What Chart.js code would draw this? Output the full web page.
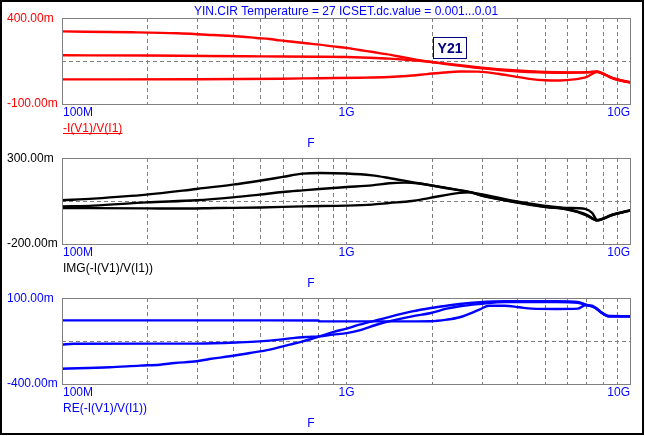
<!DOCTYPE html>
<html>
<head>
<meta charset="utf-8">
<script src="https://cdn.jsdelivr.net/npm/chart.js@4/dist/chart.umd.min.js"></script>
<style>
  html, body { margin:0; padding:0; background:#fff; }
  #wrap { position:relative; width:645px; height:436px; overflow:hidden; background:#fff; }
  #frame { position:absolute; left:0; top:0; width:640px; height:431px; border:2px solid #000; pointer-events:none; }
  canvas { position:absolute; left:0; top:0; }
</style>
</head>
<body>
<div id="wrap">
  <canvas id="c1" width="645" height="436"></canvas>
  <canvas id="c2" width="645" height="436"></canvas>
  <canvas id="c3" width="645" height="436"></canvas>
  <div id="frame"></div>
</div>
<script>
// ---------------- DATA ----------------
const chartTitle = "YIN.CIR Temperature = 27 ICSET.dc.value = 0.001...0.01";
const xTickLabels = ["100M", "1G", "10G"];
const xTickValues = [1e8, 1e9, 1e10];
const xAxisTitle = "F";

// Panel 1 : -I(V1)/V(I1)  (values in siemens)
const magName = "-I(V1)/V(I1)";
const magRange = [-0.1, 0.4];
const magF1 = [1e8,1.76e8,2.55e8,3.22e8,3.83e8,4.32e8,4.82e8,5.37e8,5.82e8,6.47e8,7.22e8,8.04e8,8.96e8,1e9,1.11e9,1.24e9,1.38e9,1.63e9,1.92e9,2.2e9,2.6e9,2.93e9,3.4e9,3.84e9,4.4e9,5e9,6e9,7e9,7.6e9,8.1e9,8.6e9,9.2e9,1e10];
const magV1 = [0.322,0.317,0.311,0.303,0.297,0.291,0.284,0.278,0.270,0.262,0.253,0.245,0.235,0.226,0.214,0.202,0.190,0.168,0.148,0.136,0.122,0.113,0.103,0.096,0.090,0.086,0.084,0.085,0.089,0.072,0.052,0.038,0.026];
const magF2 = [1e8,2e8,3.2e8,5e8,8e8,1e9,1.2e9,1.41e9,1.63e9,1.92e9,2.2e9,2.6e9,2.93e9,3.4e9,3.84e9,4.4e9,5e9,6e9,7e9,7.6e9,8.1e9,8.6e9,9.2e9,1e10];
const magV2 = [0.183,0.182,0.179,0.177,0.175,0.173,0.169,0.164,0.157,0.147,0.134,0.119,0.109,0.099,0.091,0.086,0.083,0.082,0.084,0.088,0.070,0.050,0.036,0.024];
const magF3 = [1e8,3e8,5.9e8,8e8,1.13e9,1.41e9,1.63e9,1.92e9,2.2e9,2.5e9,2.9e9,3.4e9,3.84e9,4.4e9,5e9,5.6e9,6.3e9,7e9,7.6e9,8.1e9,8.6e9,9.2e9,1e10];
const magV3 = [0.043,0.044,0.047,0.050,0.053,0.057,0.063,0.074,0.083,0.089,0.088,0.076,0.062,0.046,0.038,0.037,0.043,0.058,0.086,0.071,0.050,0.037,0.024];

// Panel 2 : IMG(-I(V1)/V(I1))
const imgName = "IMG(-I(V1)/V(I1))";
const imgRange = [-0.2, 0.3];
const imgF1 = [1e8,1.29e8,1.98e8,2.97e8,3.98e8,4.95e8,5.97e8,7.02e8,8.04e8,1e9,1.23e9,1.41e9,1.7e9,2e9,2.25e9,2.73e9,3e9,3.83e9,5e9,5.9e9,6.9e9,7.3e9,7.6e9,8.6e9,1e10];
const imgV1 = [0.054,0.064,0.087,0.120,0.145,0.168,0.190,0.209,0.213,0.210,0.199,0.184,0.160,0.140,0.126,0.102,0.088,0.052,0.022,0.010,0.004,-0.019,-0.060,-0.030,-0.002];
const imgF2 = [1e8,1.29e8,1.98e8,2.97e8,3.98e8,4.95e8,5.97e8,7.02e8,8.04e8,1e9,1.23e9,1.41e9,1.6e9,1.8e9,2e9,2.25e9,2.73e9,3e9,3.83e9,5e9,5.9e9,6.5e9,7e9,7.6e9,8.6e9,1e10];
const imgV2 = [0.019,0.023,0.042,0.054,0.071,0.087,0.102,0.112,0.120,0.131,0.141,0.153,0.157,0.152,0.139,0.124,0.100,0.082,0.045,0.015,0.002,-0.015,-0.035,-0.062,-0.030,-0.003];
const imgF3 = [1e8,2e8,2.6e8,3.5e8,5e8,7e8,1e9,1.23e9,1.41e9,1.7e9,1.95e9,2.5e9,2.73e9,3e9,3.83e9,5e9,5.9e9,6.5e9,7e9,7.6e9,8.6e9,1e10];
const imgV3 = [0.009,0.007,0.006,0.009,0.012,0.019,0.023,0.029,0.038,0.050,0.067,0.097,0.100,0.080,0.048,0.017,0.005,-0.012,-0.030,-0.063,-0.032,-0.004];

// Panel 3 : RE(-I(V1)/V(I1))
const reName = "RE(-I(V1)/V(I1))";
const reRange = [-0.4, 0.1];
const reF1 = [1e8,5e8,7.9e8,8.1e8,1.5e9,1.98e9,2.25e9,2.5e9,2.93e9,3.17e9,3.6e9,4.05e9,4.48e9,5.5e9,6.5e9,6.9e9,7.3e9,7.5e9,7.9e9,8.4e9,1e10];
const reV1 = [-0.030,-0.030,-0.031,-0.036,-0.036,-0.035,-0.026,-0.012,0.032,0.055,0.055,0.046,0.038,0.036,0.038,0.058,0.055,0.042,0.013,-0.007,-0.007];
const reF2 = [1e8,1.1e8,3e8,4.21e8,4.95e8,5.82e8,6.47e8,7.22e8,8.04e8,8.96e8,1e9,1.11e9,1.3e9,1.7e9,1.98e9,2.25e9,2.5e9,2.93e9,3.6e9,5.5e9,6.5e9,6.9e9,7.5e9,7.9e9,8.4e9,1e10];
const reV2 = [-0.171,-0.166,-0.165,-0.158,-0.152,-0.142,-0.133,-0.127,-0.123,-0.113,-0.104,-0.088,-0.051,-0.007,0.013,0.038,0.052,0.065,0.077,0.077,0.072,0.061,0.042,0.013,-0.007,-0.007];
const reF3 = [1e8,1.47e8,1.88e8,2.21e8,2.49e8,2.97e8,3.3e8,3.88e8,4.57e8,5.37e8,6.31e8,7.02e8,8.04e8,8.96e8,1e9,1.11e9,1.3e9,1.7e9,1.98e9,2.25e9,2.5e9,2.93e9,3.6e9,5.5e9,6.5e9,6.9e9,7.5e9,7.9e9,8.4e9,1e10];
const reV3 = [-0.311,-0.303,-0.293,-0.288,-0.278,-0.268,-0.255,-0.239,-0.220,-0.200,-0.171,-0.152,-0.123,-0.098,-0.078,-0.055,-0.026,0.022,0.042,0.055,0.065,0.075,0.081,0.081,0.077,0.063,0.044,0.015,-0.005,-0.006];

// ---------------- RENDER ----------------
const FONT = '"Liberation Sans", Arial, sans-serif';
const GRIDC = '#808080';
const PLOT_L = 62, PLOT_R = 631, W = 645, H = 436;

const xGridValues = [];
for (let d = 1e8; d < 1e10; d *= 10) for (let k = 1; k <= 9; k++) xGridValues.push(k * d);
xGridValues.push(1e10);

function pts(f, v) { return f.map((x, i) => ({ x: x, y: v[i] })); }
function mlabel(v) { return (v * 1000).toFixed(2) + 'm'; }

function panelPlugin(cfg) {
  return {
    id: 'panelText' + cfg.id,
    afterDraw(chart) {
      const ctx = chart.ctx, a = chart.chartArea;
      const xs = chart.scales.x;
      ctx.save();
      // plot frame
      ctx.strokeStyle = GRIDC; ctx.lineWidth = 1; ctx.setLineDash([]);
      ctx.strokeRect(Math.round(a.left) + 0.5, Math.round(a.top) + 0.5, Math.round(a.right - a.left) - 1, Math.round(a.bottom - a.top));
      ctx.font = '12px ' + FONT;
      ctx.textBaseline = 'alphabetic';
      // y labels
      ctx.fillStyle = cfg.color; ctx.textAlign = 'left';
      ctx.fillText(mlabel(cfg.range[1]), 7, a.top + 3.5);
      ctx.fillText(mlabel(cfg.range[0]), 7, a.bottom + 2.5);
      // x labels
      ctx.fillStyle = '#0000FF';
      xTickValues.forEach((v, i) => {
        const px = xs.getPixelForValue(v);
        ctx.textAlign = i === 0 ? 'left' : (i === xTickValues.length - 1 ? 'right' : 'center');
        ctx.fillText(xTickLabels[i], i === 0 ? px + 1 : (i === xTickValues.length - 1 ? px - 1 : px), a.bottom + 12);
      });
      // series name
      ctx.fillStyle = cfg.color; ctx.textAlign = 'left';
      ctx.fillText(cfg.name, 63, a.bottom + 28);
      if (cfg.underline) {
        const w = ctx.measureText(cfg.name).width;
        ctx.fillRect(63, a.bottom + 29, w, 1);
      }
      // axis title
      ctx.fillStyle = '#0000FF'; ctx.textAlign = 'center';
      ctx.fillText(xAxisTitle, 311, a.bottom + 42.5);
      if (cfg.extra) cfg.extra(ctx, chart);
      ctx.restore();
    }
  };
}

function makeChart(id, top, bottom, range, series, color, name, underline, extra) {
  const mid = (range[0] + range[1]) / 2;
  return new Chart(document.getElementById(id), {
    type: 'line',
    data: {
      datasets: series.map(s => ({
        data: pts(s[0], s[1]),
        borderColor: color, backgroundColor: color,
        borderWidth: 2.4, pointRadius: 0, fill: false,
        cubicInterpolationMode: 'monotone'
      }))
    },
    options: {
      responsive: false, animation: false, devicePixelRatio: 1,
      events: [],
      layout: { padding: { left: PLOT_L, right: W - PLOT_R, top: top, bottom: H - bottom } },
      plugins: { legend: { display: false }, tooltip: { enabled: false }, title: { display: false } },
      scales: {
        x: {
          type: 'logarithmic', min: 1e8, max: 1e10,
          afterBuildTicks: s => { s.ticks = xGridValues.map(v => ({ value: v })); },
          ticks: { display: false },
          grid: { drawTicks: false, lineWidth: 1,
                  color: c => (c.tick && (c.tick.value === 1e8 || c.tick.value === 1e10)) ? 'rgba(0,0,0,0)' : GRIDC },
          border: { display: false, dash: [4, 3] }
        },
        y: {
          type: 'linear', min: range[0], max: range[1],
          afterBuildTicks: s => { s.ticks = [range[0], mid, range[1]].map(v => ({ value: v })); },
          ticks: { display: false },
          grid: { drawTicks: false, lineWidth: 1,
                  color: c => (c.tick && Math.abs(c.tick.value - mid) < 1e-9) ? GRIDC : 'rgba(0,0,0,0)' },
          border: { display: false, dash: [4, 3] }
        }
      }
    },
    plugins: [panelPlugin({ id: id, color: color, range: range, name: name, underline: underline, extra: extra })]
  });
}

function drawHeader(ctx) {
  ctx.font = '12px ' + FONT;
  ctx.fillStyle = '#0000FF'; ctx.textAlign = 'center';
  ctx.fillText(chartTitle, 346, 15);
  // Y21 tag
  ctx.strokeStyle = '#000080'; ctx.lineWidth = 1;
  ctx.strokeRect(433.5, 37.5, 33, 21);
  ctx.fillStyle = '#000080';
  ctx.font = 'bold 14px ' + FONT;
  ctx.fillText('Y21', 450, 53);
}

makeChart('c1', 18, 104, magRange, [[magF1, magV1], [magF2, magV2], [magF3, magV3]], '#FF0000', magName, true, drawHeader);
makeChart('c2', 158, 244, imgRange, [[imgF1, imgV1], [imgF2, imgV2], [imgF3, imgV3]], '#000000', imgName, false);
makeChart('c3', 298, 384, reRange, [[reF1, reV1], [reF2, reV2], [reF3, reV3]], '#0000FF', reName, false);
</script>
</body>
</html>
